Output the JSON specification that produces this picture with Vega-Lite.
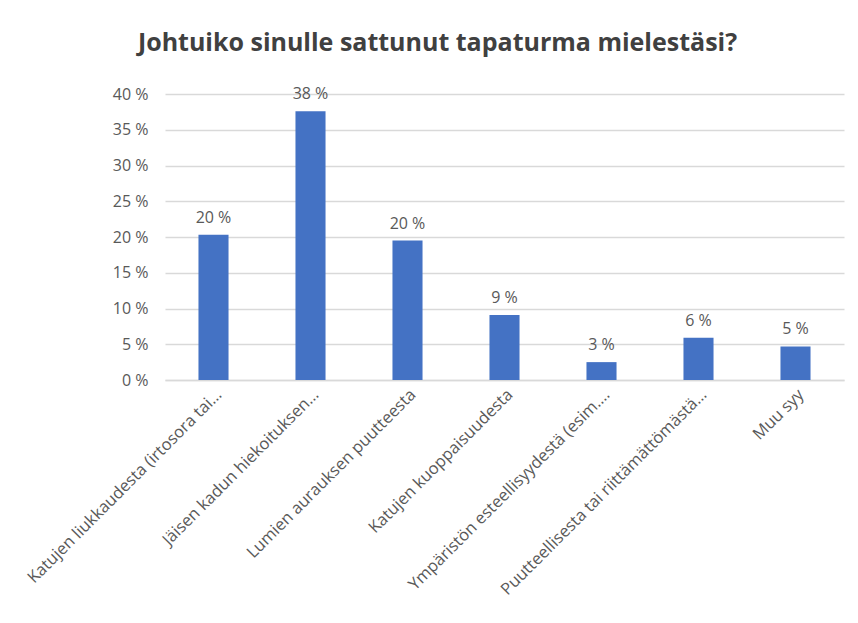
{
  "$schema": "https://vega.github.io/schema/vega-lite/v6.json",
  "width": 679,
  "height": 286,
  "autosize": {"type": "none"},
  "padding": {"left": 165, "top": 94, "right": 14, "bottom": 243},
  "background": "white",
  "config": {
    "locale": {"number": {"decimal": ",", "thousands": " ", "grouping": [3], "currency": ["", " €"], "percent": " %"}},
    "font": "Open Sans",
    "view": {"stroke": null}
  },
  "title": {
    "text": "Johtuiko sinulle sattunut tapaturma mielestäsi?",
    "fontSize": 25,
    "fontWeight": "bold",
    "color": "#404040",
    "anchor": "middle",
    "dx": -67,
    "offset": 30,
    "font": "Open Sans"
  },
  "data": {
    "values": [
      {"category": "Katujen liukkaudesta (irtosora tai…", "value": 0.203},
      {"category": "Jäisen kadun hiekoituksen…", "value": 0.376},
      {"category": "Lumien aurauksen puutteesta", "value": 0.195},
      {"category": "Katujen kuoppaisuudesta", "value": 0.091},
      {"category": "Ympäristön esteellisyydestä (esim.…", "value": 0.025},
      {"category": "Puutteellisesta tai riittämättömästä…", "value": 0.059},
      {"category": "Muu syy", "value": 0.047}
    ]
  },
  "encoding": {
    "x": {
      "field": "category",
      "type": "nominal",
      "sort": null,
      "scale": {"paddingInner": 0.69, "paddingOuter": 0.345},
      "axis": {
        "title": null,
        "labelAngle": -45,
        "labelAlign": "right",
        "labelBaseline": "top",
        "labelFontSize": 16.5,
        "labelColor": "#595959",
        "labelLimit": 400,
        "labelPadding": 6,
        "ticks": false,
        "domainColor": "#d9d9d9",
        "domainWidth": 1.5
      }
    },
    "y": {
      "field": "value",
      "type": "quantitative",
      "scale": {"domain": [0, 0.4], "nice": false},
      "axis": {
        "title": null,
        "format": ".0%",
        "values": [0, 0.05, 0.1, 0.15, 0.2, 0.25, 0.3, 0.35, 0.4],
        "labelOverlap": false,
        "labelFontSize": 16,
        "labelColor": "#595959",
        "labelPadding": 17,
        "ticks": false,
        "domain": false,
        "gridColor": "#d9d9d9",
        "gridWidth": 1.5
      }
    }
  },
  "layer": [
    {"mark": {"type": "bar", "color": "#4472C4"}},
    {
      "mark": {"type": "text", "baseline": "bottom", "dy": -9, "fontSize": 16, "color": "#595959"},
      "encoding": {"text": {"field": "value", "type": "quantitative", "format": ".0%"}}
    }
  ]
}
